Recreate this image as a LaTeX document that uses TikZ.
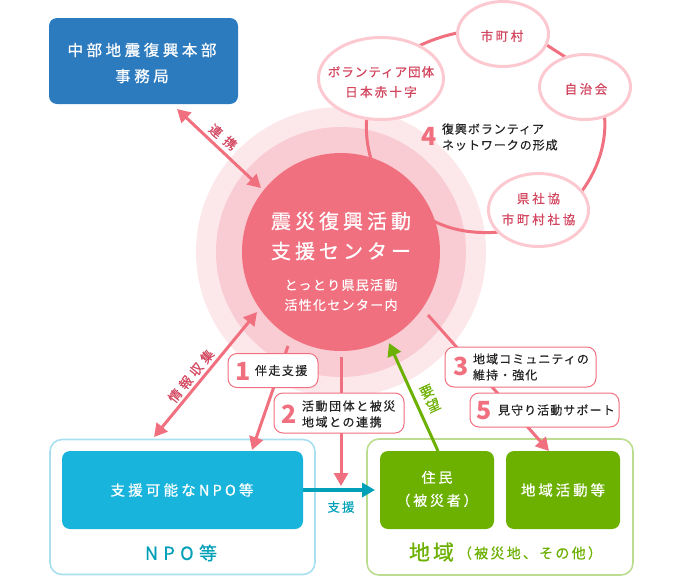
\documentclass[tikz,border=0pt]{standalone}
\usepackage{fontspec}
\usetikzlibrary{arrows.meta,shapes.geometric}
\setmainfont{Noto Sans CJK JP}
\newfontfamily\jb[FakeBold=0.7]{Noto Sans CJK JP}
\newfontfamily\jm[FakeBold=0.35]{Noto Sans CJK JP}
\newcommand\jf[3]{\fontsize{#1}{#2}\selectfont\addfontfeature{LetterSpace=#3}}
\definecolor{pinkmain}{HTML}{F1707F}
\definecolor{pinkmid}{HTML}{F9CBD2}
\definecolor{pinkpale}{HTML}{FCE8EB}
\definecolor{pinkring}{HTML}{FCC9D1}
\definecolor{pinktext}{HTML}{D2465F}
\definecolor{bluebox}{HTML}{2C7BBF}
\definecolor{cyanbox}{HTML}{18B4DC}
\definecolor{cyanline}{HTML}{A8E0F0}
\definecolor{tealtext}{HTML}{00A0B8}
\definecolor{greenbox}{HTML}{6CB000}
\definecolor{greenline}{HTML}{BCDD90}
\definecolor{inktext}{HTML}{222222}
\tikzset{
 x=1pt,y=-1pt,
 txt/.style={inner sep=0,outer sep=0,align=center},
 lbl/.style={inner sep=0,outer sep=0,align=left,text=inktext},
 num/.style={inner sep=0,outer sep=0,font=\bfseries\fontsize{25}{25}\selectfont,text=pinkmain},
 solidbox/.style={draw=none,rounded corners=8pt,outer sep=0,inner sep=0},
 framebox/.style={draw,line width=1.6pt,rounded corners=12pt,fill=white,outer sep=0,inner sep=0},
 tagbox/.style={draw=pinkmain,line width=1pt,rounded corners=9pt,fill=white,outer sep=0,inner sep=0},
 oval/.style={ellipse,draw=pinkring,line width=3pt,fill=white,inner sep=0,outer sep=0},
 ovaltext/.style={txt,text=pinktext},
 boxtext/.style={txt,text=white},
 pinkarrow/.style={draw=pinkmain,line width=3pt},
}
\begin{document}
\begin{tikzpicture}
\useasboundingbox (0,0) rectangle (680,576);
% circles
\node[circle,fill=pinkpale,minimum size=290pt,inner sep=0,outer sep=0] (outerc) at (341,252) {};
\node[circle,fill=pinkmid,minimum size=250pt,inner sep=0,outer sep=0] (midc) at (341,252) {};
% network ring segments, ends hidden under the ovals and the centre circle
\coordinate (r1a) at (367,115); \coordinate (r1b) at (374,168);
\coordinate (r2a) at (415,48); \coordinate (r2b) at (462,32);
\coordinate (r3a) at (542,42); \coordinate (r3b) at (570,60);
\coordinate (r4a) at (604,112); \coordinate (r4b) at (578,196);
\coordinate (r5a) at (428,218); \coordinate (r5b) at (500,232);
\draw[line width=3pt,pinkmain] (r1a) .. controls (365,135) and (368,152) .. (r1b);
\draw[line width=3pt,pinkmain] (r2a) .. controls (430,40) and (446,35) .. (r2b);
\draw[line width=3pt,pinkmain] (r3a) -- (r3b);
\draw[line width=3pt,pinkmain] (r4a) .. controls (608,140) and (598,172) .. (r4b);
\draw[line width=3pt,pinkmain] (r5a) .. controls (450,231) and (475,234) .. (r5b);
\node[circle,fill=pinkmain,minimum size=198pt,inner sep=0,outer sep=0] (center) at (341,252) {};
\node[boxtext,font=\jb\jf{20}{30}{20}] (ctitle) at (341,236) {震災復興活動\\支援センター};
\node[boxtext,font=\jm\jf{13}{20}{10}] (csub) at (341,295) {とっとり県民活動\\活性化センター内};
% ovals
\node[oval,minimum width=125pt,minimum height=82pt] (vol) at (381,78.5) {};
\node[ovaltext,font=\jb\jf{12.5}{20}{8}] (volt) at (381,82) {ボランティア団体\\\addfontfeature{LetterSpace=18}日本赤十字};
\node[oval,minimum width=91pt,minimum height=65pt] (city) at (503,34) {};
\node[ovaltext,font=\jb\jf{12.5}{20}{20}] (cityt) at (502,36) {市町村};
\node[oval,minimum width=91pt,minimum height=65pt] (auto) at (585,87) {};
\node[ovaltext,font=\jb\jf{12.5}{20}{20}] (autot) at (586,89) {自治会};
\node[oval,minimum width=100pt,minimum height=73pt] (shakyo) at (538.5,210) {};
\node[ovaltext,font=\jb\jf{12.5}{21}{22}] (shakyot) at (538.5,209) {県社協\\市町村社協};
\node[num] (n4) at (429,136) {4};
\node[lbl,anchor=west,font=\jm\jf{12}{16}{8}] (t4) at (442,137) {復興ボランティア\\ネットワークの形成};
% top-left box
\node[solidbox,fill=bluebox,minimum width=189pt,minimum height=86pt] (hq) at (143.5,61) {};
\node[boxtext,font=\jb\jf{15.5}{26}{23}] (hqt) at (142,63) {中部地震復興本部\\事務局};
% lower frames
\node[framebox,draw=cyanline,minimum width=265pt,minimum height=135pt] (npoframe) at (182.5,507) {};
\node[framebox,draw=greenline,minimum width=266pt,minimum height=136pt] (areaframe) at (500,507) {};
\node[solidbox,fill=cyanbox,minimum width=241pt,minimum height=78pt] (npo) at (182.5,490) {};
\node[boxtext,font=\jb\jf{14.5}{23}{22}] (npot) at (182,490) {支援可能なNPO等};
\node[solidbox,fill=greenbox,minimum width=114pt,minimum height=78pt] (res) at (437,490) {};
\node[boxtext,font=\jb\jf{14}{23}{20}] (rest) at (437,489) {住民\\（被災者）};
\node[solidbox,fill=greenbox,minimum width=114pt,minimum height=78pt] (act) at (563,490) {};
\node[boxtext,font=\jb\jf{14.5}{23}{20}] (actt) at (563,490) {地域活動等};
\node[txt,text=tealtext,font=\jb\jf{18}{18}{30}] (nposub) at (181,553) {NPO等};
\node[txt,text=greenbox,anchor=west,font=\jb\jf{21}{21}{14}] (areasub) at (409,552) {地域};
\node[txt,text=greenbox,anchor=west,font=\jm\jf{14}{14}{16}] (areasub2) at (458,553) {（被災地、その他）};
% arrow end points
\coordinate (a1) at (177,109); \coordinate (a2) at (261,188);
\coordinate (b1) at (154,437); \coordinate (b2) at (257,312);
\coordinate (c1) at (288,346); \coordinate (c2) at (252,450);
\coordinate (d1) at (341,357); \coordinate (d2) at (341,486);
\coordinate (e1) at (428,315); \coordinate (e2) at (549,451);
\coordinate (f1) at (438,451); \coordinate (f2) at (389,343);
% arrows
\draw[pinkarrow,{Triangle[length=13pt,width=14pt]}-{Triangle[length=13pt,width=14pt]}] (a1) -- (a2);
\draw[pinkarrow,{Triangle[length=13pt,width=14pt]}-{Triangle[length=13pt,width=14pt]}] (b1) -- (b2);
\draw[pinkarrow,-{Triangle[length=13pt,width=14pt]}] (c1) -- (c2);
\draw[pinkarrow,-{Triangle[length=13pt,width=14pt]}] (d1) -- (d2);
\draw[pinkarrow,-{Triangle[length=13pt,width=14pt]}] (e1) -- (e2);
\draw[greenbox,line width=3pt,-{Triangle[length=13pt,width=14pt]}] (f1) -- (f2);
\draw[tealtext,line width=3.5pt,-{Triangle[length=13pt,width=14pt]},shorten >=5pt] (npo.east) -- (res.west);
% arrow labels
\node[txt,text=pinktext,rotate=-40,font=\jm\jf{13}{13}{45}] (l1) at (223,137) {連携};
\node[txt,text=pinktext,rotate=51,font=\jm\jf{13}{13}{30}] (l2) at (191,376) {情報収集};
\node[txt,text=greenbox,rotate=25,font=\jm\jf{14}{15.5}{0}] (l3) at (430,398.5) {要\\望};
\node[txt,text=tealtext,font=\jm\jf{12.5}{12.5}{16}] (l4) at (341,507) {支援};
% tags
\node[tagbox,minimum width=90pt,minimum height=34pt] (tag1) at (273,370.5) {};
\node[num] (n1) at (243,371) {1};
\node[lbl,anchor=west,font=\jm\jf{12}{16}{12}] (t1) at (255,370.5) {伴走支援};
\node[tagbox,minimum width=130pt,minimum height=40pt] (tag2) at (339,413) {};
\node[num] (n2) at (289,414) {2};
\node[lbl,anchor=west,font=\jm\jf{12}{16}{13}] (t2) at (302,414) {活動団体と被災\\地域との連携};
\node[tagbox,minimum width=151pt,minimum height=40pt] (tag3) at (520.5,367) {};
\node[num] (n3) at (461,366) {3};
\node[lbl,anchor=west,font=\jm\jf{12}{16}{9}] (t3) at (473,367) {地域コミュニティの\\維持・強化};
\node[tagbox,minimum width=149pt,minimum height=34pt] (tag5) at (544.5,410) {};
\node[num] (n5) at (484,411) {5};
\node[lbl,anchor=west,font=\jm\jf{12}{16}{9}] (t5) at (498,410) {見守り活動サポート};
\end{tikzpicture}
\end{document}
